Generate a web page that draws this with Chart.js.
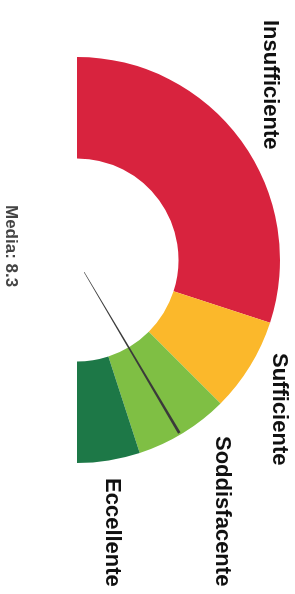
<!DOCTYPE html>
<html>
<head>
<meta charset="utf-8">
<script src="https://cdn.jsdelivr.net/npm/chart.js@4.4.0/dist/chart.umd.min.js"></script>
<style>
    html, body { margin: 0; padding: 0; background: #fff; }
    canvas { display: block; }
</style>
</head>
<body>
<canvas id="gauge" width="295" height="594"></canvas>
<script>
// fasce di giudizio (scala 0-10)
const bandLabels = ['Insufficiente', 'Sufficiente', 'Soddisfacente', 'Eccellente'];
const bandSizes = [6, 1.5, 1.5, 1];
const bandColors = ['#d8233e', '#fbb82b', '#7fbf44', '#1d7847'];
const scaleMax = 10;
const media = 8.3;

// dove scrivere le etichette (x centro, y inizio testo)
const labelSpots = [
    [270, 20],
    [279, 353],
    [222, 436],
    [112, 478],
];

const gaugeText = {
    id: 'gaugeText',
    afterDatasetsDraw(chart) {
        const ctx = chart.ctx;
        const arc = chart.getDatasetMeta(0).data[0];
        const cx = arc.x, cy = arc.y;
        const r = arc.outerRadius;

        // ago
        let a = -Math.PI / 2 + (media / scaleMax) * Math.PI;
        let ux = Math.cos(a), uy = Math.sin(a);
        let nx = -uy, ny = ux;
        let r0 = 14, r1 = r - 2;
        ctx.save();
        ctx.fillStyle = '#3a3a3a';
        ctx.beginPath();
        ctx.moveTo(cx + ux * r0 + nx * 0.3, cy + uy * r0 + ny * 0.3);
        ctx.lineTo(cx + ux * r1 + nx * 1.4, cy + uy * r1 + ny * 1.4);
        ctx.lineTo(cx + ux * r1 - nx * 1.4, cy + uy * r1 - ny * 1.4);
        ctx.lineTo(cx + ux * r0 - nx * 0.3, cy + uy * r0 - ny * 0.3);
        ctx.closePath();
        ctx.fill();
        ctx.restore();

        // etichette ruotate
        ctx.save();
        ctx.fillStyle = '#111';
        ctx.font = 'bold 22px "Liberation Sans", Arial, sans-serif';
        ctx.textAlign = 'left';
        ctx.textBaseline = 'middle';
        bandLabels.forEach((txt, i) => {
            ctx.save();
            ctx.translate(labelSpots[i][0], labelSpots[i][1]);
            ctx.rotate(Math.PI / 2);
            ctx.fillText(txt, 0, 0);
            ctx.restore();
        });
        ctx.fillStyle = '#444';
        ctx.font = 'bold 17px "Liberation Sans", Arial, sans-serif';
        ctx.translate(11, 205);
        ctx.rotate(Math.PI / 2);
        ctx.fillText('Media: ' + media, 0, 0);
        ctx.restore();
    }
};

new Chart(document.getElementById('gauge'), {
    type: 'doughnut',
    data: {
        labels: bandLabels,
        datasets: [{
            data: bandSizes,
            backgroundColor: bandColors,
            borderWidth: 0,
        }]
    },
    options: {
        responsive: false,
        animation: false,
        rotation: 0,
        circumference: 180,
        cutout: '50%',
        layout: {
            padding: { left: 77, top: 57, right: 15, bottom: 131 }
        },
        plugins: {
            legend: { display: false },
            tooltip: { enabled: false },
        }
    },
    plugins: [gaugeText]
});
</script>
</body>
</html>
